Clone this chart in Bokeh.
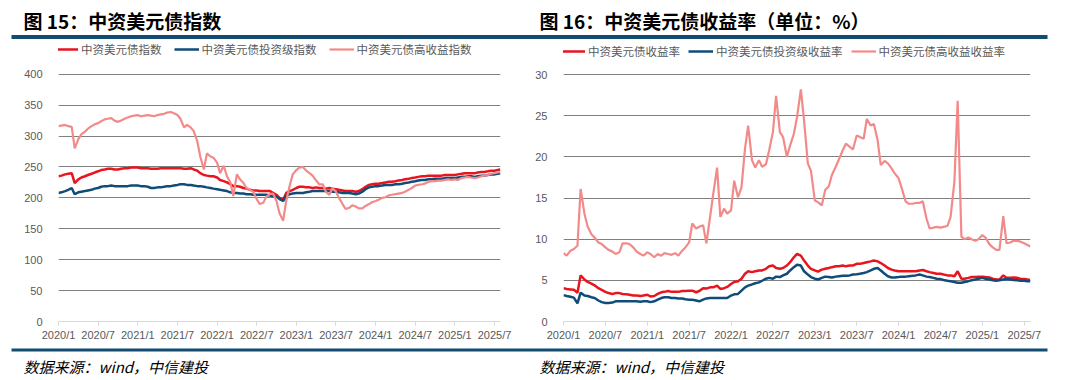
import pandas as pd
from bokeh.plotting import figure
from bokeh.layouts import column, row
from bokeh.models import Range1d, FixedTicker, Legend, LegendItem
from bokeh.core.properties import value
from bokeh.embed import file_html
from bokeh.resources import INLINE

# ---------------- data ----------------
dates = list(pd.date_range("2020-01-01", "2025-07-15", freq="SMS")) + [pd.Timestamp("2025-07-28")]

tick_labels = ["2020/1", "2020/7", "2021/1", "2021/7", "2022/1", "2022/7",
               "2023/1", "2023/7", "2024/1", "2024/7", "2025/1", "2025/7"]
tick_months = [0, 6, 12, 18, 24, 30, 36, 42, 48, 54, 60, 66]

idx_total = [235, 236, 238, 239, 240, 224, 230, 233, 235, 237,
             239, 241, 243, 245, 246, 247, 247, 246, 246, 247,
             248, 248, 249, 249, 249, 248, 248, 248, 247, 247,
             247, 248, 248, 248, 248, 248, 248, 248, 247, 247,
             248, 246, 244, 240, 237, 236, 235, 235, 233, 229,
             227, 225, 222, 219, 219, 218, 216, 215, 213, 212,
             212, 211, 211, 211, 211, 208, 205, 200, 197, 208,
             211, 213, 216, 218, 218, 217, 217, 216, 217, 216,
             216, 215, 216, 215, 214, 213, 212, 211, 211, 211,
             210, 211, 214, 218, 221, 222, 223, 223, 224, 225,
             226, 226, 227, 228, 229, 230, 231, 232, 233, 234,
             235, 235, 236, 236, 236, 236, 236, 237, 237, 237,
             237, 238, 239, 240, 240, 240, 240, 241, 242, 242,
             243, 244, 244, 245, 246]

idx_ig = [208, 209, 211, 213, 216, 206, 209, 210, 211, 212,
          213, 215, 216, 218, 219, 219, 220, 219, 219, 219,
          219, 219, 220, 220, 220, 219, 219, 218, 216, 216,
          217, 217, 218, 219, 219, 220, 221, 222, 222, 221,
          221, 220, 219, 219, 218, 217, 216, 215, 214, 213,
          212, 211, 209, 208, 208, 207, 207, 206, 206, 205,
          205, 205, 205, 205, 204, 203, 202, 198, 195, 203,
          206, 207, 208, 208, 208, 209, 210, 211, 211, 211,
          211, 211, 211, 210, 210, 209, 208, 208, 208, 207,
          206, 207, 210, 214, 217, 218, 219, 219, 220, 221,
          221, 221, 222, 222, 223, 224, 225, 226, 227, 228,
          229, 229, 230, 230, 231, 231, 231, 232, 232, 232,
          232, 233, 234, 234, 235, 235, 234, 235, 236, 236,
          237, 238, 238, 239, 240]

idx_hy = [316, 317, 318, 316, 315, 280, 295, 303, 307, 312,
          316, 319, 321, 324, 327, 328, 329, 325, 323, 325,
          328, 330, 332, 333, 334, 332, 333, 334, 333, 332,
          334, 335, 336, 338, 339, 337, 334, 328, 314, 318,
          314, 308, 292, 267, 246, 272, 267, 265, 257, 240,
          252, 235, 225, 203, 238, 230, 224, 216, 213, 210,
          198, 190, 192, 202, 206, 207, 195, 175, 163, 195,
          220, 238, 245, 249, 250, 244, 240, 236, 228, 222,
          222, 210, 205, 216, 210, 200, 190, 182, 184, 188,
          186, 183, 183, 187, 190, 193, 195, 197, 200, 201,
          204, 205, 206, 207, 208, 210, 213, 216, 220, 221,
          222, 223, 226, 227, 227, 228, 228, 229, 230, 229,
          230, 229, 232, 233, 234, 233, 232, 233, 235, 236,
          237, 239, 240, 241, 242]

yld_total = [4.05, 3.95, 3.9, 3.85, 3.5, 5.6, 5.1, 4.8, 4.6, 4.4,
             4.05, 3.85, 3.6, 3.45, 3.35, 3.45, 3.45, 3.35, 3.3, 3.25,
             3.15, 3.15, 3.1, 3.15, 3.25, 3.05, 3.1, 3.35, 3.55, 3.6,
             3.7, 3.6, 3.6, 3.6, 3.7, 3.7, 3.75, 3.75, 3.55, 3.7,
             4.05, 4.0, 4.15, 4.15, 4.35, 3.95, 4.05, 4.2, 4.55, 4.8,
             4.9, 5.2, 5.8, 6.1, 6.0, 6.1, 6.2, 6.2, 6.4, 6.7,
             6.8, 6.5, 6.4, 6.5, 6.8, 7.2, 7.8, 8.2, 8.0, 7.4,
             6.8, 6.4, 6.2, 6.05, 6.3, 6.4, 6.5, 6.6, 6.7, 6.7,
             6.8, 6.7, 6.8, 6.8, 7.0, 7.0, 7.1, 7.2, 7.3, 7.4,
             7.3, 7.1, 6.8, 6.5, 6.3, 6.2, 6.1, 6.1, 6.1, 6.1,
             6.1, 6.1, 6.2, 6.25, 6.1, 6.0, 5.9, 5.8, 5.8, 5.7,
             5.6, 5.6, 5.5, 6.1, 5.2, 5.2, 5.3, 5.4, 5.4, 5.45,
             5.45, 5.4, 5.35, 5.2, 5.1, 5.1, 5.6, 5.3, 5.3, 5.35,
             5.3, 5.2, 5.15, 5.1, 5.05]

yld_ig = [3.2, 3.1, 3.0, 2.9, 2.2, 3.5, 3.15, 3.1, 2.95, 2.85,
          2.55, 2.35, 2.25, 2.25, 2.3, 2.45, 2.45, 2.45, 2.45, 2.45,
          2.45, 2.45, 2.4, 2.45, 2.45, 2.35, 2.45, 2.65, 2.85, 2.95,
          2.95, 2.85, 2.85, 2.8, 2.8, 2.7, 2.65, 2.65, 2.55, 2.45,
          2.65, 2.8, 2.85, 2.85, 2.85, 2.85, 2.85, 2.85, 3.15, 3.3,
          3.35, 3.75, 4.15, 4.35, 4.5, 4.65, 4.75, 4.95, 5.2, 5.3,
          5.2, 5.45, 5.4, 5.6, 5.8, 6.2, 6.6, 6.9, 6.8, 6.1,
          5.7, 5.4, 5.2, 5.1, 5.3, 5.45, 5.4, 5.35, 5.45, 5.5,
          5.55, 5.55, 5.6, 5.7, 5.75, 5.8, 5.9, 6.0, 6.2, 6.4,
          6.5, 6.2, 5.8, 5.5, 5.35, 5.35, 5.4, 5.45, 5.45, 5.5,
          5.55, 5.6, 5.7, 5.6, 5.45, 5.4, 5.3, 5.2, 5.15, 5.05,
          4.95, 4.9, 4.8, 4.7, 4.7, 4.8, 4.9, 5.0, 5.1, 5.2,
          5.3, 5.2, 5.1, 5.0, 4.95, 5.0, 5.1, 5.15, 5.1, 5.05,
          5.0, 4.95, 4.95, 4.9, 4.9]

yld_hy = [8.3, 8.0, 8.6, 8.8, 9.2, 16.1, 13.1, 11.5, 10.6, 10.2,
          9.6, 9.4, 9.0, 8.7, 8.5, 8.2, 8.4, 9.5, 9.5, 9.4,
          9.0, 8.5, 8.2, 8.0, 8.4, 8.2, 7.8, 8.2, 8.0, 8.3,
          8.2, 8.1, 8.3, 8.0, 8.6, 9.0, 9.6, 11.9, 11.3, 11.5,
          11.7, 9.5, 12.7, 15.5, 18.7, 12.7, 13.7, 13.1, 13.5, 17.1,
          15.1, 16.3, 21.0, 23.8, 19.6, 18.7, 19.6, 18.8, 19.1, 20.8,
          23.0, 27.4, 23.0, 22.4, 20.0, 21.4, 22.8, 24.8, 28.2, 24.4,
          19.2, 18.3, 14.7, 14.5, 14.1, 16.0, 16.4, 17.8, 18.8, 19.7,
          20.8, 21.6, 21.2, 20.9, 22.6, 22.4, 22.2, 24.6, 23.8, 24.0,
          22.0, 19.0, 19.5, 19.2, 18.6, 18.0, 17.4, 16.2, 14.6, 14.3,
          14.3, 14.4, 14.4, 14.6, 12.5, 11.3, 11.4, 11.5, 11.4, 11.5,
          11.6, 12.7, 17.0, 26.8, 10.3, 10.0, 10.2, 10.0, 9.8, 10.0,
          10.5, 10.2, 9.4, 9.0, 8.7, 8.7, 12.8, 9.5, 9.6, 9.8,
          9.8, 9.7, 9.5, 9.3, 9.1]

legend_left = ["中资美元债指数", "中资美元债投资级指数", "中资美元债高收益指数"]
legend_right = ["中资美元债收益率", "中资美元债投资级收益率", "中资美元债高收益收益率"]
title_left = "图 15：中资美元债指数"
title_right = "图 16：中资美元债收益率（单位：%）"
source_text = "数据来源：wind，中信建投"

for arr in (idx_total, idx_ig, idx_hy, yld_total, yld_ig, yld_hy):
    assert len(arr) == len(dates), len(arr)

xm = [(d.year - 2020) * 12 + d.month - 1 + (d.day - 1) / d.days_in_month for d in dates]

# ---------------- style ----------------
RED = "#E8141E"
BLUE = "#0F4C7A"
PINK = "#F38A8A"
RULE = "#124C73"
GRID = "#808080"
TXT = "#595959"
CJK = "Noto Sans CJK SC"
LAT = "Liberation Sans"
W = 1060
CH = 306          # chart figure height (page y 40..346)
TOP = 40          # page y of chart figures' top
LEG_Y = 52        # page y of legend centre


def deco(height):
    p = figure(width=W, height=height, x_range=Range1d(0, W), y_range=Range1d(height, 0),
               output_backend="svg", toolbar_location=None,
               min_border=0, min_border_left=0, min_border_right=0,
               min_border_top=0, min_border_bottom=0)
    p.axis.visible = False
    p.grid.visible = False
    p.outline_line_color = None
    return p


def chart(width, border_left, y_top_px, y_zero_px, y_max, y_ticks, series, labels,
          leg_x, leg_spacing):
    border_bottom = TOP + CH - y_zero_px
    frame_h = y_zero_px - TOP
    # the frame reaches the top of the figure so that the legend can sit inside it
    y_end = y_max * frame_h / (y_zero_px - y_top_px)
    p = figure(width=width, height=CH, x_range=Range1d(0, 66.9), y_range=Range1d(0, y_end),
               output_backend="svg", toolbar_location=None,
               min_border_left=border_left, min_border_right=30,
               min_border_top=0, min_border_bottom=border_bottom)
    p.outline_line_color = None
    p.xgrid.visible = False
    p.ygrid.ticker = FixedTicker(ticks=y_ticks[1:])
    p.ygrid.grid_line_color = GRID
    p.ygrid.grid_line_width = 1

    p.yaxis.ticker = FixedTicker(ticks=y_ticks)
    p.yaxis.axis_line_color = None
    p.yaxis.major_tick_line_color = None
    p.yaxis.minor_tick_line_color = None
    p.yaxis.major_label_standoff = 10
    p.yaxis.major_label_text_font = LAT
    p.yaxis.major_label_text_font_size = "11px"
    p.yaxis.major_label_text_color = TXT

    p.xaxis.ticker = FixedTicker(ticks=tick_months)
    p.xaxis.major_label_overrides = {m: t for m, t in zip(tick_months, tick_labels)}
    p.xaxis.axis_line_color = "#D9D9D9"
    p.xaxis.major_tick_line_color = "#D9D9D9"
    p.xaxis.major_tick_in = 0
    p.xaxis.major_tick_out = 4
    p.xaxis.minor_tick_line_color = None
    p.xaxis.major_label_standoff = 3
    p.xaxis.major_label_text_font = LAT
    p.xaxis.major_label_text_font_size = "11px"
    p.xaxis.major_label_text_color = TXT

    items = []
    for (ys, color, lw), lab in zip(series, labels):
        r = p.line(xm, ys, line_color=color, line_width=lw)
        items.append(LegendItem(label=lab, renderers=[r]))
    leg_h = 14
    leg = Legend(items=items, orientation="horizontal",
                 location=(leg_x, y_zero_px - (LEG_Y + leg_h / 2)),
                 border_line_color=None, background_fill_alpha=0,
                 padding=0, margin=0, spacing=leg_spacing, glyph_width=25, glyph_height=leg_h,
                 label_height=leg_h, label_standoff=3,
                 label_text_font=CJK, label_text_font_size="11.5px",
                 label_text_color=TXT)
    p.add_layout(leg)
    return p


# header (page y 0..40)
head = deco(TOP)
head.text(x=[23, 539], y=[20, 20], text=[title_left, title_right],
          text_font=value(CJK), text_font_style="bold", text_font_size="19px",
          text_color="#000000", text_baseline="middle", text_align="left")
head.quad(left=[11], right=[1047], top=[34.5], bottom=[38.5], fill_color=RULE, line_color=None)

left = chart(530, 58, 74, 323, 400, [0, 50, 100, 150, 200, 250, 300, 350, 400],
             [(idx_total, RED, 2.5), (idx_ig, BLUE, 2.5), (idx_hy, PINK, 2.2)],
             legend_left, -5, 12)
right = chart(530, 33, 74, 321, 30, [0, 5, 10, 15, 20, 25, 30],
              [(yld_total, RED, 2.5), (yld_ig, BLUE, 2.5), (yld_hy, PINK, 2.2)],
              legend_right, -3, 8)

# footer (page y 346..378)
foot = deco(32)
foot.quad(left=[11], right=[1047], top=[2], bottom=[5], fill_color=RULE, line_color=None)
foot.text(x=[23, 539], y=[20, 20], text=[source_text, source_text],
          text_font=value(CJK), text_font_style="italic", text_font_size="15px",
          text_color="#000000", text_baseline="middle", text_align="left")

layout = column(head, row(left, right), foot)
open("out.html", "w").write(file_html(layout, INLINE))
